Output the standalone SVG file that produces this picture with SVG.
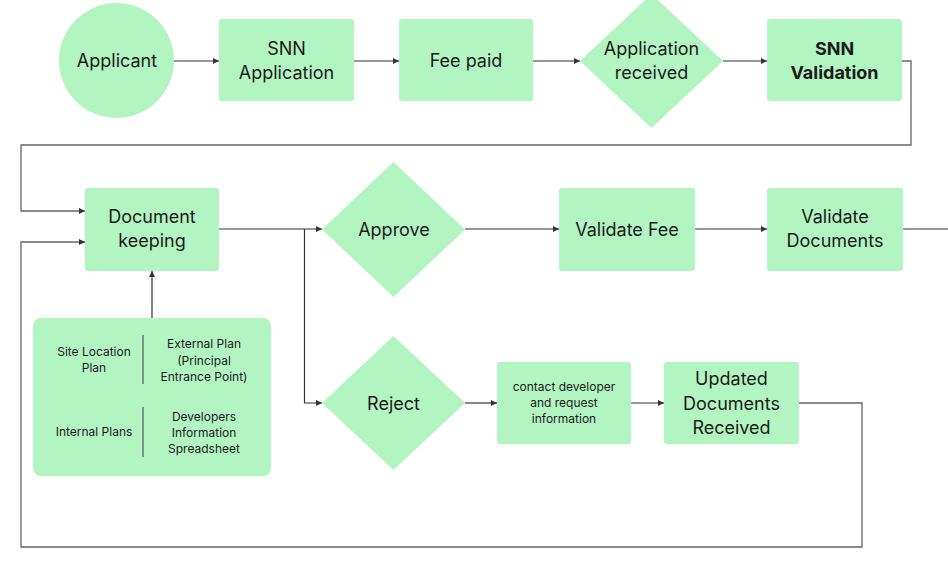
<svg xmlns="http://www.w3.org/2000/svg" width="948" height="572" viewBox="0 0 948 572">
<style>
.n{fill:#b3f5c1}
.t{font-family:Inter,"Open Sans","Liberation Sans",sans-serif;font-size:18px;fill:#1a1a1a;text-anchor:middle}
.b{font-weight:bold}
.s{font-size:12px}
.x{font-size:12px}
.c{fill:none;stroke:#333;stroke-width:1.2}
.g{fill:none;stroke:#666;stroke-width:1.3}
.d{stroke:#555;stroke-width:1.2}
</style>
<defs>
<marker id="a" markerUnits="userSpaceOnUse" markerWidth="7" markerHeight="6" refX="6" refY="3" orient="auto">
<path d="M0,0 L6,3 L0,6 z" fill="#333"/>
</marker>
</defs>
<rect width="948" height="572" fill="#fff"/>
<g id="connectors">
<path class="c" d="M174,61 H219" marker-end="url(#a)"/>
<path class="c" d="M354,61 H399" marker-end="url(#a)"/>
<path class="c" d="M533,61 H580" marker-end="url(#a)"/>
<path class="c" d="M723,61 H767" marker-end="url(#a)"/>
<path class="g" d="M902,61 H911 V145 H21 V211 H85" marker-end="url(#a)"/>
<path class="c" d="M219,229 H322" marker-end="url(#a)"/>
<path class="c" d="M304.5,229 V403 H322" marker-end="url(#a)"/>
<path class="c" d="M465,229 H559" marker-end="url(#a)"/>
<path class="c" d="M695,229 H767" marker-end="url(#a)"/>
<path class="c" d="M902,229 H948"/>
<path class="c" d="M152,318 V271" marker-end="url(#a)"/>
<path class="c" d="M465,403 H497" marker-end="url(#a)"/>
<path class="c" d="M631,403 H664" marker-end="url(#a)"/>
<path class="g" d="M799,403 H862 V547 H21 V242 H85" marker-end="url(#a)"/>
</g>
<g id="applicant">
<circle class="n" cx="116.5" cy="60.5" r="57.5"/>
<text class="t" x="117" y="67">Applicant</text>
</g>
<g id="snn-application">
<rect class="n" x="219" y="19" width="135" height="82" rx="3"/>
<text class="t" x="286.5" y="55">SNN</text>
<text class="t" x="286.5" y="79">Application</text>
</g>
<g id="fee-paid">
<rect class="n" x="399" y="19" width="134" height="82" rx="3"/>
<text class="t" x="466" y="67">Fee paid</text>
</g>
<g id="application-received">
<polygon class="n" points="651.5,-6 723,61 651.5,128 580,61"/>
<text class="t" x="651.5" y="55">Application</text>
<text class="t" x="651.5" y="79">received</text>
</g>
<g id="snn-validation">
<rect class="n" x="767" y="19" width="135" height="82" rx="3"/>
<text class="t b" x="834.5" y="55">SNN</text>
<text class="t b" x="834.5" y="79">Validation</text>
</g>
<g id="document-keeping">
<rect class="n" x="85" y="188" width="134" height="83" rx="3"/>
<text class="t" x="152" y="223">Document</text>
<text class="t" x="152" y="247">keeping</text>
</g>
<g id="approve">
<polygon class="n" points="393.5,162 465,229.5 393.5,297 322,229.5"/>
<text class="t" x="394" y="236">Approve</text>
</g>
<g id="validate-fee">
<rect class="n" x="559" y="188" width="136" height="83" rx="3"/>
<text class="t" x="627" y="236">Validate Fee</text>
</g>
<g id="validate-documents">
<rect class="n" x="767" y="188" width="136" height="83" rx="3"/>
<text class="t" x="835" y="223">Validate</text>
<text class="t" x="835" y="247">Documents</text>
</g>
<g id="documents-table">
<rect class="n" x="33" y="318" width="238" height="158" rx="8"/>
<line class="d" x1="143" y1="335" x2="143" y2="384"/>
<line class="d" x1="143" y1="407" x2="143" y2="457"/>
<text class="t x" x="94" y="356">Site Location</text>
<text class="t x" x="94" y="372">Plan</text>
<text class="t x" x="204" y="348">External Plan</text>
<text class="t x" x="204" y="365">(Principal</text>
<text class="t x" x="204" y="381">Entrance Point)</text>
<text class="t x" x="94" y="436">Internal Plans</text>
<text class="t x" x="204" y="421">Developers</text>
<text class="t x" x="204" y="437">Information</text>
<text class="t x" x="204" y="453">Spreadsheet</text>
</g>
<g id="reject">
<polygon class="n" points="393.5,336 465,403 393.5,470 322,403"/>
<text class="t" x="393.5" y="409.5">Reject</text>
</g>
<g id="contact-developer">
<rect class="n" x="497" y="362" width="134" height="82" rx="3"/>
<text class="t s" x="564" y="391">contact developer</text>
<text class="t s" x="564" y="407">and request</text>
<text class="t s" x="564" y="423">information</text>
</g>
<g id="updated-documents">
<rect class="n" x="664" y="362" width="135" height="82" rx="3"/>
<text class="t" x="731.5" y="385">Updated</text>
<text class="t" x="731.5" y="409.5">Documents</text>
<text class="t" x="731.5" y="434">Received</text>
</g>
</svg>
